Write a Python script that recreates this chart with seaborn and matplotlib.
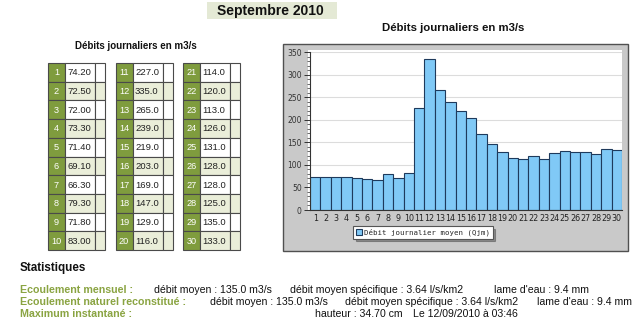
import matplotlib
matplotlib.use("Agg")
import matplotlib.pyplot as plt
from matplotlib.patches import Rectangle
from matplotlib.ticker import MultipleLocator
import seaborn as sns
import pandas as pd

sns.set_theme(style="white")
plt.rcParams['font.family'] = ['Liberation Sans', 'DejaVu Sans']

# ---------------- data ----------------
title = "Septembre 2010"
chart_title = "Débits journaliers en m3/s"
days = [str(d) for d in range(1, 31)]
debits = [74.2, 72.5, 72.0, 73.3, 71.4, 69.1, 66.3, 79.3, 71.8, 83.0,
          227.0, 335.0, 265.0, 239.0, 219.0, 203.0, 169.0, 147.0, 129.0, 116.0,
          114.0, 120.0, 113.0, 126.0, 131.0, 128.0, 128.0, 125.0, 135.0, 133.0]
y_ticks = [0, 50, 100, 150, 200, 250, 300, 350]
legend_label = "Débit journalier moyen (Qjm)"
stats_title = "Statistiques"
stat_labels = ["Ecoulement mensuel :", "Ecoulement naturel reconstitué :", "Maximum instantané :"]
stat_values = [
    ["débit moyen : 135.0 m3/s", "débit moyen spécifique : 3.64 l/s/km2", "lame d'eau : 9.4 mm"],
    ["débit moyen : 135.0 m3/s", "débit moyen spécifique : 3.64 l/s/km2", "lame d'eau : 9.4 mm"],
    ["hauteur : 34.70 cm", "Le 12/09/2010 à 03:46"],
]

df = pd.DataFrame({"jour": days, "debit": debits})
table_text = [f"{v:.2f}" if v < 100 else f"{v:.1f}" for v in debits]

W, H = 635, 323
fig = plt.figure(figsize=(W / 100, H / 100), dpi=100)
fig.patch.set_facecolor("white")

bg = fig.add_axes([0, 0, 1, 1], zorder=0)
bg.set_xlim(0, W)
bg.set_ylim(H, 0)
bg.axis("off")

green = "#7f9c3e"
light = "#eaeed9"
border = "#4a4a4a"

# title box
bg.add_patch(Rectangle((207, 2), 130, 17, fc="#e4e9d5", ec="none"))
bg.text(270, 10.5, title, ha="center", va="center", fontsize=10.0, fontweight="bold", color="#111111")

# left table
bg.text(136, 46, chart_title, ha="center", va="center", fontsize=7.0, fontweight="bold", color="#111111")
tbl_x = [48, 115.5, 183]
row_top, row_h = 63, 18.7
wg, wv, wb = 17, 30, 10
for i, (lab, txt) in enumerate(zip(days, table_text)):
    c, r = divmod(i, 10)
    x0 = tbl_x[c]
    y0 = row_top + r * row_h
    shade = light if r % 2 else "white"
    bg.add_patch(Rectangle((x0, y0), wg, row_h, fc=green, ec=border, lw=0.8))
    bg.add_patch(Rectangle((x0 + wg, y0), wv, row_h, fc=shade, ec=border, lw=0.8))
    bg.add_patch(Rectangle((x0 + wg + wv, y0), wb, row_h, fc=shade, ec=border, lw=0.8))
    bg.text(x0 + wg / 2, y0 + row_h / 2 + 0.5, lab, color="white", ha="center", va="center", fontsize=6.6)
    bg.text(x0 + wg + 2.5, y0 + row_h / 2 + 0.5, txt, color="#222222", ha="left", va="center", fontsize=6.8)

# chart panel
bg.text(453, 28, chart_title, ha="center", va="center", fontsize=8.2, fontweight="bold", color="#111111")
bg.add_patch(Rectangle((283, 44), 345, 207, fc="#c9c9c9", ec="#505050", lw=1.0))
bg.add_patch(Rectangle((308, 50), 314, 160, fc="white", ec="none"))

ax = fig.add_axes([310 / W, 1 - 210 / H, (622 - 310) / W, (210 - 52) / H], zorder=1)
sns.barplot(data=df, x="jour", y="debit", order=days, color="#80c9f6", saturation=1,
            width=1.0, edgecolor="#1e3a5c", linewidth=0.8, label=legend_label, ax=ax)
ax.set_facecolor("white")
ax.set_xlim(-0.5, len(days) - 0.5)
ax.set_ylim(0, 350)
ax.set_yticks(y_ticks)
ax.yaxis.set_minor_locator(MultipleLocator(10))
ax.set_xlabel("")
ax.set_ylabel("")
ax.yaxis.grid(True, color="#dcdcdc", lw=0.8)
ax.set_axisbelow(True)
for s in ["top", "right"]:
    ax.spines[s].set_visible(False)
ax.spines["left"].set_color("#333333")
ax.spines["bottom"].set_color("#333333")
ax.spines["left"].set_linewidth(0.8)
ax.spines["bottom"].set_linewidth(0.8)
ax.tick_params(axis="y", which="major", left=True, length=4, width=0.7, color="#333333",
               labelsize=5.5, labelcolor="#333333", pad=2)
ax.tick_params(axis="y", which="minor", left=True, length=2, width=0.5, color="#333333")
ax.tick_params(axis="x", length=0, labelsize=5.8, labelcolor="#222222", pad=3)
for t in ax.get_xticklabels() + ax.get_yticklabels():
    t.set_fontfamily("DejaVu Sans")

leg = ax.legend(loc="upper left", bbox_to_anchor=(353 / W, 1 - 226 / H), bbox_transform=fig.transFigure,
                frameon=True, fancybox=False, shadow=True, borderpad=0.35, handlelength=0.9,
                handleheight=0.9, handletextpad=0.25, borderaxespad=0,
                prop={"family": "DejaVu Sans Mono", "size": 5.3})
leg.get_frame().set_edgecolor("#555555")
leg.get_frame().set_linewidth(0.8)

# statistics
bg.text(20, 268, stats_title, ha="left", va="center", fontsize=8.4, fontweight="bold", color="#111111")
lab_color = "#8aa442"
ys = [290, 302, 314]
val_x = [[154, 290, 494], [210, 345, 537], [315, 413]]
for lab, vals, y, xs in zip(stat_labels, stat_values, ys, val_x):
    bg.text(20, y, lab, ha="left", va="center", fontsize=7.7, fontweight="bold", color=lab_color)
    for v, x in zip(vals, xs):
        bg.text(x, y, v, ha="left", va="center", fontsize=7.6, color="#111111")

fig.savefig("out.png", dpi=100)
